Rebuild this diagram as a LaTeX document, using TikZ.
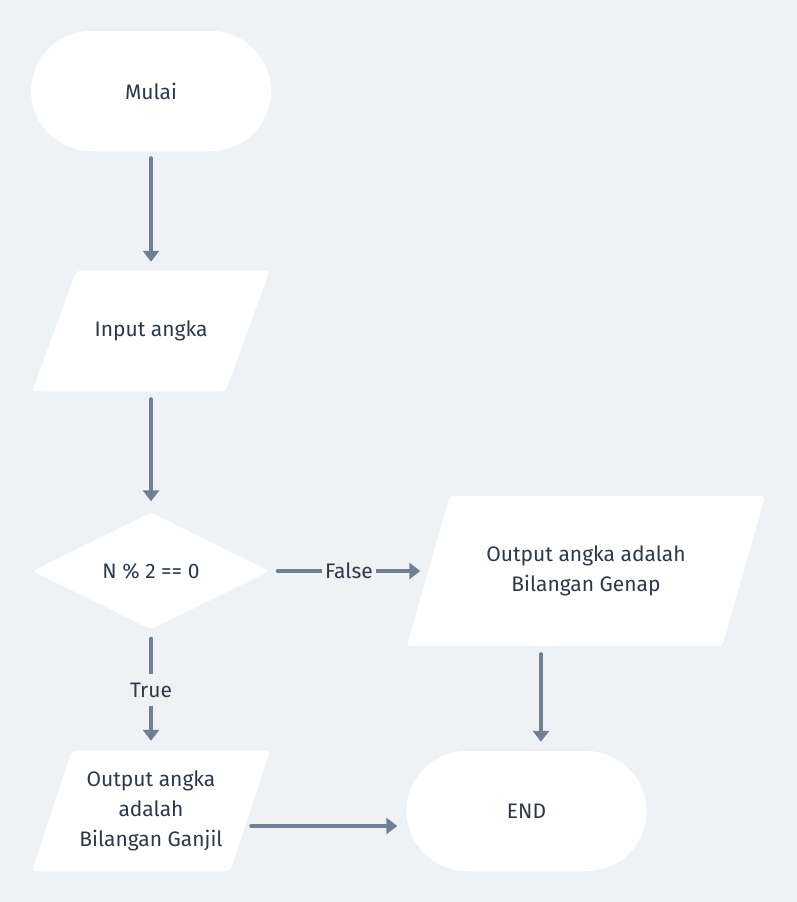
\documentclass[tikz,border=0pt]{standalone}
\usepackage{fontspec}
\setmainfont{Fira Sans}
\usetikzlibrary{shapes.geometric,arrows.meta,backgrounds}
\definecolor{bgcol}{RGB}{239,242,245}
\definecolor{linecol}{RGB}{112,128,144}
\definecolor{txtcol}{RGB}{45,57,72}
% white parallelogram behind a rectangular node, slanted by #2 each side
\newcommand{\parafill}[2]{\fill [white, rounded corners=4pt] ([xshift=-#2]#1.south west) -- ([xshift=#2]#1.north west) -- ([xshift=#2]#1.north east) -- ([xshift=-#2]#1.south east) -- cycle;}

\begin{document}
\begin{tikzpicture}[x=1pt,y=-1pt,
  every node/.style={font=\fontsize{21}{30}\selectfont, text=txtcol},
  terminal/.style={fill=white, rounded corners=60pt, minimum width=240pt, minimum height=120pt, inner sep=0pt},
  io/.style={minimum width=193pt, minimum height=120pt, inner sep=0pt, align=center},
  decision/.style={diamond, fill=white, rounded corners=4pt, minimum width=237pt, minimum height=117pt, inner sep=0pt},
  flow/.style={draw=linecol, line width=4pt, line cap=round, -{Triangle[width=16pt,length=11pt]}},
  lbl/.style={fill=bgcol, inner sep=3pt, minimum height=32pt}]
  % shapes
  \node [terminal] (mulai) at (151,91) {Mulai};
  \node [io] (input) at (151,331) {Input angka};
  \node [decision] (dec) at (151,571) {N \% 2 == 0};
  \node [io, minimum width=315pt, minimum height=150pt] (genap) at (586,571) {Output angka adalah\\Bilangan Genap};
  \node [io, minimum width=198pt] (ganjil) at (151,811) {Output angka\\adalah\\Bilangan Ganjil};
  \node [terminal] (end) at (526.5,811) {END};
  \begin{scope}[on background layer]
    \fill [bgcol] (0,0) rectangle (797,902);
    \parafill{input}{22pt}
    \parafill{genap}{21.5pt}
    \parafill{ganjil}{20pt}
  \end{scope}
  % connectors
  \draw [flow, shorten <=7pt, shorten >=9pt] (mulai.south) -- (input.north);
  \draw [flow, shorten <=8pt, shorten >=11pt] (input.south) -- (dec.north);
  \draw [flow, shorten <=9pt, shorten >=10pt] (dec.south) -- node [lbl] {True} (ganjil.north);
  \draw [flow, shorten <=8pt, shorten >=8pt] (dec.east) -- node [lbl] {False} (genap.west);
  \draw [flow, shorten <=8pt, shorten >=9pt] ([xshift=-45pt]genap.south) -- ([xshift=-45pt]genap.south |- end.north);
  \draw [flow, shorten <=1pt, shorten >=9pt] ([yshift=-15pt]ganjil.east) -- ([yshift=-15pt]ganjil.east -| end.west);
\end{tikzpicture}
\end{document}
